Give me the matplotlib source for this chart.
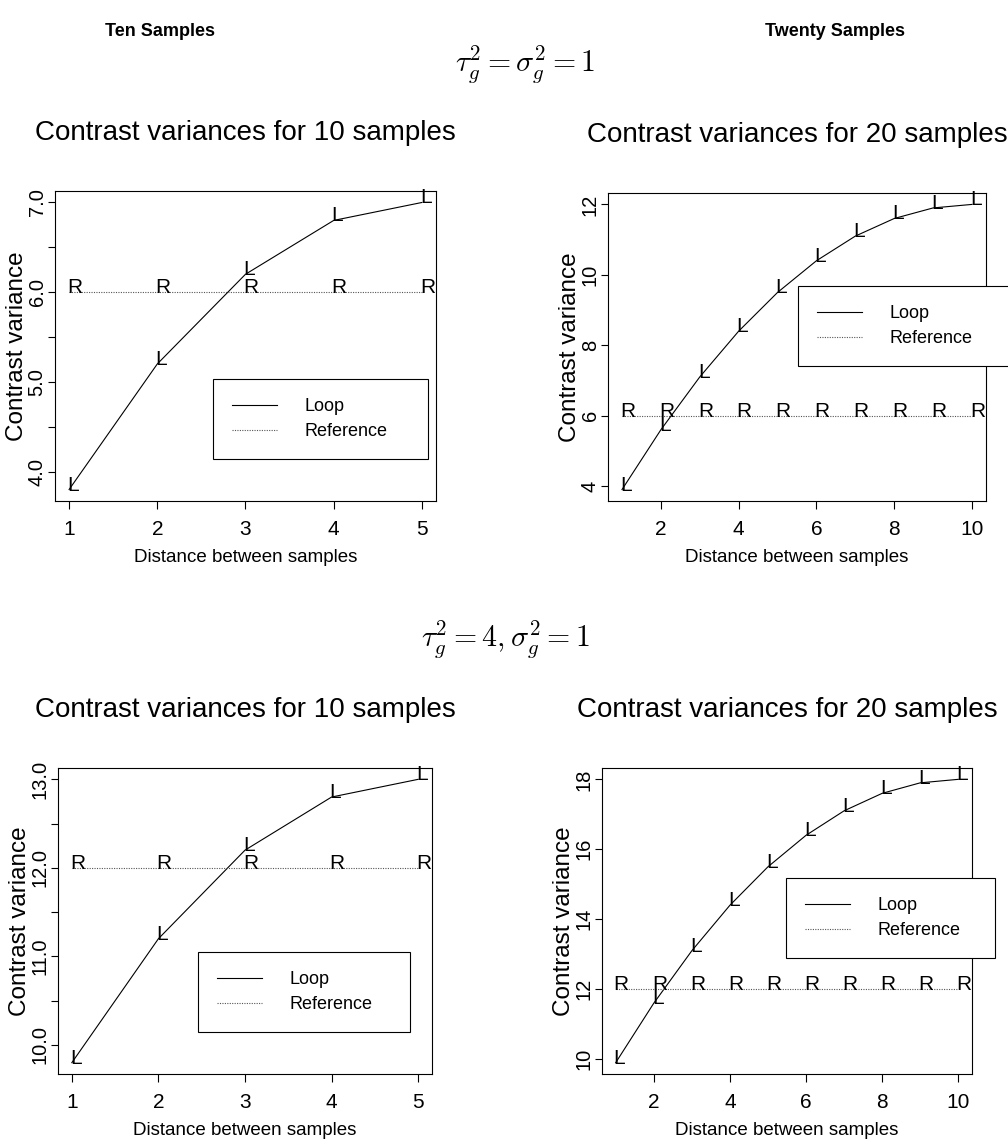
import matplotlib
matplotlib.use("Agg")
import matplotlib.pyplot as plt
from matplotlib import font_manager as fm
from matplotlib.transforms import offset_copy
from matplotlib.lines import Line2D

# distances between samples
dist10 = [1, 2, 3, 4, 5]
dist20 = [1, 2, 3, 4, 5, 6, 7, 8, 9, 10]

# tau^2 = sigma^2 = 1
loop10_a = [3.8, 5.2, 6.2, 6.8, 7.0]
ref10_a = [6.0, 6.0, 6.0, 6.0, 6.0]
loop20_a = [3.9, 5.6, 7.1, 8.4, 9.5, 10.4, 11.1, 11.6, 11.9, 12.0]
ref20_a = [6.0] * 10

# tau^2 = 4, sigma^2 = 1
loop10_b = [9.8, 11.2, 12.2, 12.8, 13.0]
ref10_b = [12.0, 12.0, 12.0, 12.0, 12.0]
loop20_b = [9.9, 11.6, 13.1, 14.4, 15.5, 16.4, 17.1, 17.6, 17.9, 18.0]
ref20_b = [12.0] * 10

yticks10_a = [4.0, 4.5, 5.0, 5.5, 6.0, 6.5, 7.0]
ylabels10_a = ["4.0", "", "5.0", "", "6.0", "", "7.0"]
yticks10_b = [10.0, 10.5, 11.0, 11.5, 12.0, 12.5, 13.0]
ylabels10_b = ["10.0", "", "11.0", "", "12.0", "", "13.0"]
yticks20_a = [4, 6, 8, 10, 12]
yticks20_b = [10, 12, 14, 16, 18]
xticks10 = [1, 2, 3, 4, 5]
xticks20 = [2, 4, 6, 8, 10]

names = {f.name for f in fm.fontManager.ttflist}
NARROW = "Liberation Sans Narrow" if "Liberation Sans Narrow" in names else "Liberation Sans"
plt.rcParams["font.family"] = ["Liberation Sans", "DejaVu Sans"]
plt.rcParams["mathtext.fontset"] = "cm"

W, H = 1008, 1145
fig = plt.figure(figsize=(W / 100, H / 100), dpi=100)


def add_ax(l, r, t, b):
    return fig.add_axes([l / W, 1 - b / H, (r - l) / W, (b - t) / H])


def panel(ax, x, loop, ref, title, yticks, ylabels, xticks, leg):
    ax.plot(x, loop, color="black", lw=0.8)
    ax.plot(x, ref, color="#555555", lw=0.8, ls=(0, (1, 1.2)))
    ax.margins(0.04)
    tr = offset_copy(ax.transData, fig=fig, x=-2, y=-1, units="dots")
    for xi, yi in zip(x, loop):
        ax.text(xi, yi, "L", transform=tr, fontsize=15, family=NARROW,
                ha="left", va="baseline", clip_on=False)
    for xi, yi in zip(x, ref):
        ax.text(xi, yi, "R", transform=tr, fontsize=15, family=NARROW,
                ha="left", va="baseline", clip_on=False)

    ax.set_xticks(xticks)
    ax.set_xticklabels([str(v) for v in xticks], family=NARROW, fontsize=15)
    ax.set_yticks(yticks)
    ax.set_yticklabels(ylabels, rotation=90, va="center", fontsize=14.5)
    ax.tick_params(axis="x", direction="out", length=5.5, width=0.8, pad=8)
    ax.tick_params(axis="y", direction="out", length=5, width=0.8, pad=1)
    for s in ax.spines.values():
        s.set_linewidth(0.8)

    bb = ax.get_position()
    axw, axh = bb.width * W, bb.height * H
    ax.set_title(title, family=NARROW, fontsize=20, pad=36.5)
    ax.set_xlabel("Distance between samples", family=NARROW, fontsize=13.5)
    ax.xaxis.set_label_coords(0.5, -48 / axh)
    ax.set_ylabel("Contrast variance", fontsize=17.5)
    ax.yaxis.set_label_coords(-27 / axw, 0.5)

    handles = [Line2D([], [], color="black", lw=0.8),
               Line2D([], [], color="#555555", lw=0.8, ls=(0, (1, 1.2)))]
    lx, ly, lw = leg
    lg = ax.legend(handles, ["Loop", "Reference"], loc="upper left",
                   bbox_to_anchor=(lx / W, 1 - ly / H, lw / W, 0),
                   bbox_transform=fig.transFigure, mode="expand",
                   prop={"family": NARROW, "size": 13},
                   fancybox=False, edgecolor="black", framealpha=1,
                   borderpad=1.05, borderaxespad=0, handlelength=2.5,
                   handletextpad=1.5, labelspacing=0.45)
    lg.get_frame().set_linewidth(0.8)


ax1 = add_ax(55, 436, 191, 501)
panel(ax1, dist10, loop10_a, ref10_a, "Contrast variances for 10 samples",
      yticks10_a, ylabels10_a, xticks10, (213, 379, 215))
ax2 = add_ax(608, 986, 193, 501)
panel(ax2, dist20, loop20_a, ref20_a, "Contrast variances for 20 samples",
      yticks20_a, [str(v) for v in yticks20_a], xticks20, (798, 286, 240))
ax3 = add_ax(58, 432, 768, 1074)
panel(ax3, dist10, loop10_b, ref10_b, "Contrast variances for 10 samples",
      yticks10_b, ylabels10_b, xticks10, (198, 952, 212))
ax4 = add_ax(602, 972, 768, 1074)
panel(ax4, dist20, loop20_b, ref20_b, "Contrast variances for 20 samples",
      yticks20_b, [str(v) for v in yticks20_b], xticks20, (786, 878, 209))

fig.text(160 / W, 1 - 32 / H, "Ten Samples", family=NARROW, weight="bold",
         fontsize=13, ha="center", va="center")
fig.text(835 / W, 1 - 32 / H, "Twenty Samples", family=NARROW, weight="bold",
         fontsize=13, ha="center", va="center")
fig.text(525 / W, 1 - 65 / H, r"$\tau_g^2 = \sigma_g^2 = 1$", fontsize=21.5,
         ha="center", va="center")
fig.text(505 / W, 1 - 640 / H, r"$\tau_g^2 = 4, \sigma_g^2 = 1$", fontsize=21.5,
         ha="center", va="center")

fig.savefig("out.png", dpi=100)
